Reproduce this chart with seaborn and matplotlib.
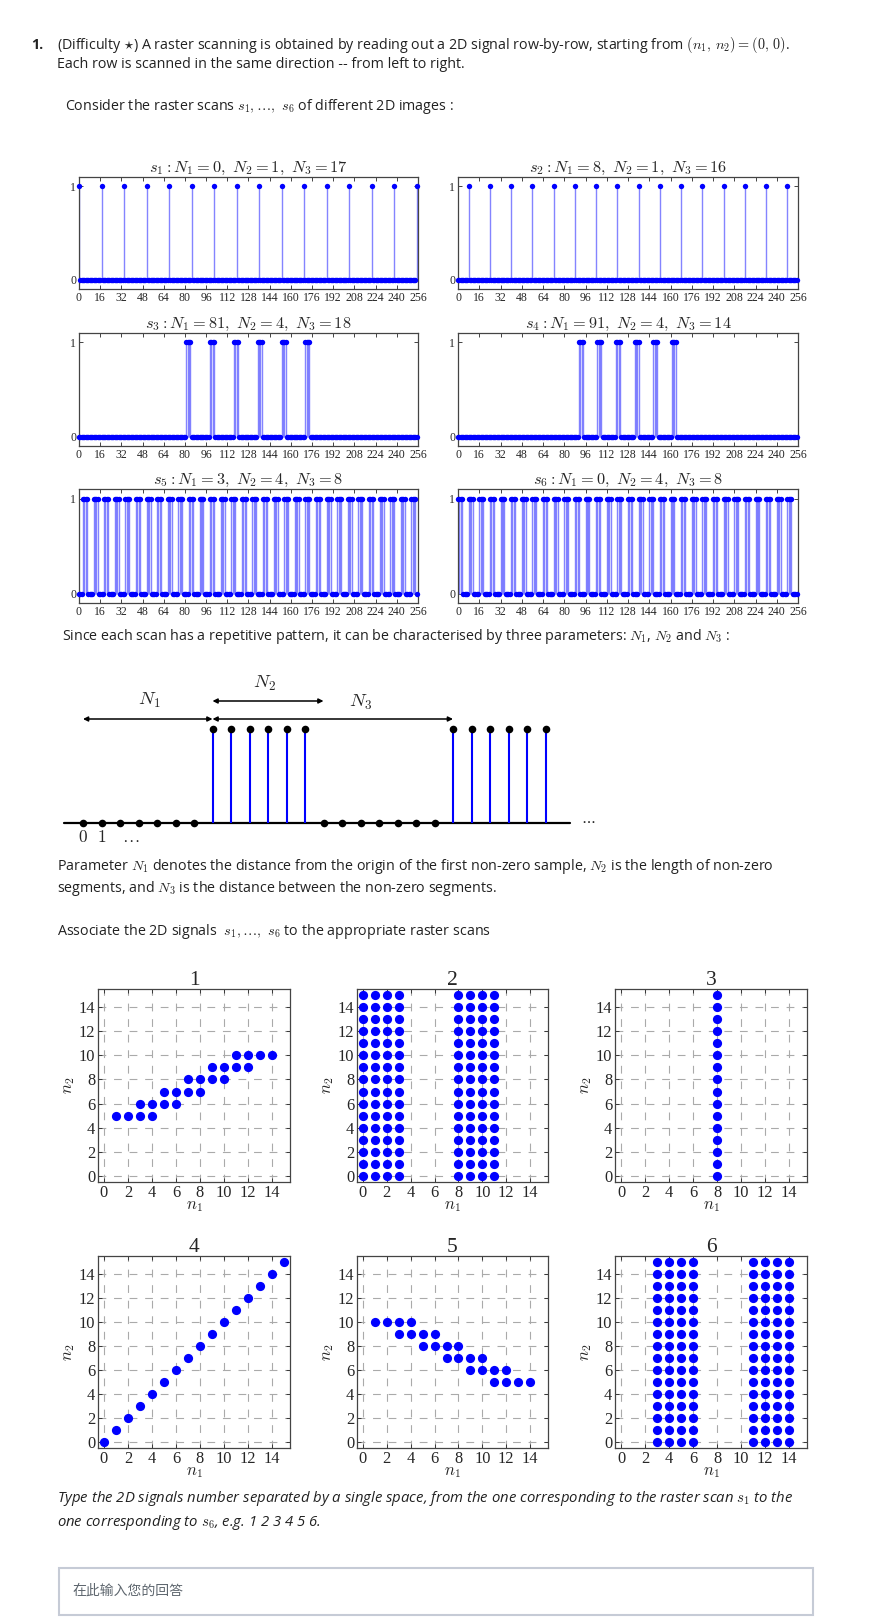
import matplotlib
matplotlib.use("Agg")
import matplotlib.pyplot as plt
import numpy as np
import pandas as pd
import seaborn as sns
from matplotlib.patches import Rectangle

W, H = 874, 1618

# 2D images: coordinates (n1, n2) of the non-zero samples
img1_n1 = [1, 2, 3, 4, 3, 4, 5, 6, 5, 6, 7, 8, 7, 8, 9, 10, 9, 10, 11, 12, 11, 12, 13, 14]
img1_n2 = [5, 5, 5, 5, 6, 6, 6, 6, 7, 7, 7, 7, 8, 8, 8, 8, 9, 9, 9, 9, 10, 10, 10, 10]
img4_n1 = [0, 1, 2, 3, 4, 5, 6, 7, 8, 9, 10, 11, 12, 13, 14, 15]
img4_n2 = [0, 1, 2, 3, 4, 5, 6, 7, 8, 9, 10, 11, 12, 13, 14, 15]
img5_n1 = [1, 2, 3, 4, 3, 4, 5, 6, 5, 6, 7, 8, 7, 8, 9, 10, 9, 10, 11, 12, 11, 12, 13, 14]
img5_n2 = [10, 10, 10, 10, 9, 9, 9, 9, 8, 8, 8, 8, 7, 7, 7, 7, 6, 6, 6, 6, 5, 5, 5, 5]
all_rows = [0, 1, 2, 3, 4, 5, 6, 7, 8, 9, 10, 11, 12, 13, 14, 15]
img2_cols = [0, 1, 2, 3, 8, 9, 10, 11]
img3_cols = [8]
img6_cols = [3, 4, 5, 6, 11, 12, 13, 14]
panel_titles = ["1", "2", "3", "4", "5", "6"]

# raster scans: parameters and which image they come from
scan_N1 = [0, 8, 81, 91, 3, 0]
scan_N2 = [1, 1, 4, 4, 4, 4]
scan_N3 = [17, 16, 18, 14, 8, 8]
scan_image = [4, 3, 1, 5, 6, 2]

# explanatory diagram samples
diag_values = [0, 0, 0, 0, 0, 0, 0, 1, 1, 1, 1, 1, 1,
               0, 0, 0, 0, 0, 0, 0, 1, 1, 1, 1, 1, 1]


def cols_to_points(cols):
    pts = [(c, r) for r in all_rows for c in cols]
    return [p[0] for p in pts], [p[1] for p in pts]


images = {
    1: (img1_n1, img1_n2),
    2: cols_to_points(img2_cols),
    3: cols_to_points(img3_cols),
    4: (img4_n1, img4_n2),
    5: (img5_n1, img5_n2),
    6: cols_to_points(img6_cols),
}

sns.set_style("ticks")
plt.rcParams["font.family"] = ["Liberation Serif", "DejaVu Serif"]
plt.rcParams["mathtext.fontset"] = "cm"

SANS = ["Open Sans", "DejaVu Sans"]
TXT = "#222222"
BODY = 10.3

fig = plt.figure(figsize=(W / 100, H / 100), dpi=100)


def box(l, t, r, b):
    return [l / W, 1 - b / H, (r - l) / W, (b - t) / H]


def ftext(x, y, s, **kw):
    kw.setdefault("family", SANS)
    kw.setdefault("fontsize", BODY)
    kw.setdefault("color", TXT)
    fig.text(x / W, 1 - y / H, s, va="center", ha=kw.pop("ha", "left"), **kw)


# header text
ftext(31, 45, "1.", fontweight="bold")
ftext(57, 45, r"(Difficulty $\star$) A raster scanning is obtained by reading out a 2D signal "
              r"row-by-row, starting from $(n_1,\, n_2) = (0,\, 0)$.")
ftext(57, 65, "Each row is scanned in the same direction -- from left to right.")
ftext(65, 107, r"Consider the raster scans $s_1, \ldots,\ s_6$ of different 2D images :")

# raster scan plots
col_x = [(79, 418), (458, 798)]
row_y = [(177, 289), (333, 446), (489, 603)]
n = np.arange(256)
for k in range(6):
    grid = np.zeros((16, 16))
    gx, gy = images[scan_image[k]]
    grid[gy, gx] = 1
    sig = grid.flatten()
    l, r = col_x[k % 2]
    t, b = row_y[k // 2]
    ax = fig.add_axes(box(l, t, r, b))
    ax.vlines(n[sig > 0], 0, 1, color="#6f6fff", lw=1.0, alpha=0.85, zorder=2)
    sns.scatterplot(x=n, y=sig, ax=ax, color="#0000ff", s=15, linewidth=0,
                    zorder=3, clip_on=False, legend=False)
    ax.set_xlim(0, 256)
    ax.set_ylim(-0.1, 1.1)
    ax.set_xticks(range(0, 257, 16))
    ax.set_yticks([0, 1])
    ax.tick_params(direction="in", top=True, right=True, length=3, width=0.6,
                   labelsize=8.5, pad=2)
    for sp in ax.spines.values():
        sp.set_color("#444444")
        sp.set_linewidth(0.9)
    ax.set_xlabel("")
    ax.set_ylabel("")
    ax.set_title(r"$s_{%d} : N_1 = %d,\ N_2 = %d,\ N_3 = %d$"
                 % (k + 1, scan_N1[k], scan_N2[k], scan_N3[k]), fontsize=11.8, pad=4)

ftext(62, 637, r"Since each scan has a repetitive pattern, it can be characterised by three "
               r"parameters: $N_1$, $N_2$ and $N_3$ :")

# explanatory diagram
dl, dr, dt, db = 40, 640, 650, 860
x0, dx = 83, 18.5
y0, dy = 823, 94
dax = fig.add_axes(box(dl, dt, dr, db))
dax.set_xlim((dl - x0) / dx, (dr - x0) / dx)
dax.set_ylim((y0 - db) / dy, (y0 - dt) / dy)
dax.axis("off")
idx = np.arange(len(diag_values))
vals = np.array(diag_values)
dax.plot([-1.05, 26.3], [0, 0], color="black", lw=1.6, zorder=1)
dax.vlines(idx[vals > 0], 0, 1, color="#0000ff", lw=1.5, zorder=2)
sns.scatterplot(x=idx, y=vals, ax=dax, color="black", s=30, linewidth=0, zorder=3,
                legend=False)
dax.text(27.3, 0.03, r"$\cdots$", fontsize=11, ha="center", va="center")
arrow = dict(arrowstyle="<|-|>", color="black", lw=1.1, shrinkA=0, shrinkB=0,
             mutation_scale=7)
y_long = (y0 - 719) / dy
y_n2 = (y0 - 701) / dy
dax.annotate("", xy=(0, y_long), xytext=(7, y_long), arrowprops=arrow)
dax.annotate("", xy=(7, y_long), xytext=(20, y_long), arrowprops=arrow)
dax.annotate("", xy=(7, y_n2), xytext=(13, y_n2), arrowprops=arrow)
dax.text(3.6, (y0 - 700) / dy, r"$N_1$", fontsize=13.5, ha="center", va="center")
dax.text(9.8, (y0 - 683) / dy, r"$N_2$", fontsize=13.5, ha="center", va="center")
dax.text(15, (y0 - 702) / dy, r"$N_3$", fontsize=13.5, ha="center", va="center")
dax.text(0, (y0 - 838) / dy, r"$0$", fontsize=12.5, ha="center", va="center")
dax.text(1, (y0 - 838) / dy, r"$1$", fontsize=12.5, ha="center", va="center")
dax.text(2.6, (y0 - 838) / dy, r"$\ldots$", fontsize=12.5, ha="center", va="center")

ftext(57, 866, r"Parameter $N_1$ denotes the distance from the origin of the first non-zero "
               r"sample, $N_2$ is the length of non-zero")
ftext(57, 888, r"segments, and $N_3$ is the distance between the non-zero segments.")
ftext(57, 932, r"Associate the 2D signals  $s_1, \ldots,\ s_6$ to the appropriate raster scans")

# 2D signal panels
pcol = [(98, 290), (357, 548), (615, 807)]
prow = [(989, 1182), (1256, 1448)]
for k in range(6):
    l, r = pcol[k % 3]
    t, b = prow[k // 3]
    ax = fig.add_axes(box(l, t, r, b))
    px, py = images[k + 1]
    df = pd.DataFrame({"n1": px, "n2": py})
    sns.scatterplot(data=df, x="n1", y="n2", ax=ax, color="#0000ff", s=44,
                    linewidth=0, zorder=3, clip_on=False, legend=False)
    ax.set_xlim(-0.5, 15.5)
    ax.set_ylim(-0.5, 15.5)
    ax.set_xticks(range(0, 15, 2))
    ax.set_yticks(range(0, 15, 2))
    ax.grid(True, color="#aaaaaa", lw=0.8, ls=(0, (7, 7)))
    ax.tick_params(direction="in", top=True, right=True, length=3, width=0.6,
                   labelsize=11.8, pad=2)
    for sp in ax.spines.values():
        sp.set_color("#444444")
        sp.set_linewidth(0.9)
    ax.set_xlabel(r"$n_1$", fontsize=12, labelpad=-2)
    ax.set_ylabel(r"$n_2$", fontsize=12, labelpad=1)
    ax.set_title(panel_titles[k], fontsize=15.5, pad=3)

ftext(57, 1498, r"Type the 2D signals number separated by a single space, from the one "
                r"corresponding to the raster scan $s_1$ to the", style="italic", fontsize=10.7)
ftext(57, 1522, r"one corresponding to $s_6$, e.g. 1 2 3 4 5 6.", style="italic", fontsize=10.7)

# answer box
fig.add_artist(Rectangle((59 / W, 1 - 1615 / H), (813 - 59) / W, (1615 - 1568) / H,
                         transform=fig.transFigure, fill=False,
                         edgecolor="#c6cbd6", lw=1.5))
ftext(72, 1591, "在此输入您的回答", family=["Noto Sans CJK SC", "DejaVu Sans"],
      color="#5f676f", fontsize=10)

fig.savefig("out.png", dpi=100)
